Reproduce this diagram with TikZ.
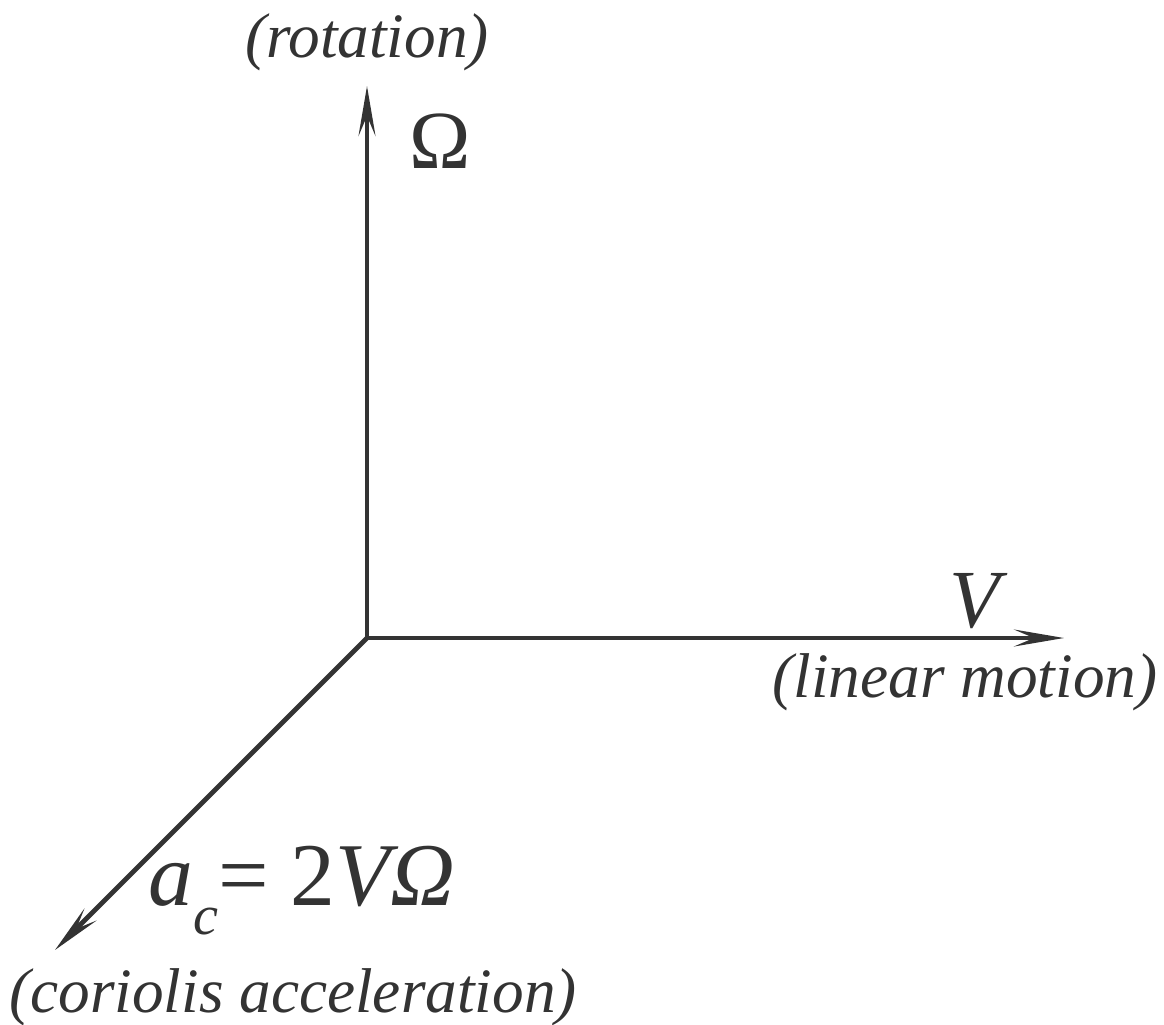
\documentclass[tikz,border=0pt]{standalone}
\usepackage{fontspec}
\setmainfont{Liberation Serif}
\usetikzlibrary{arrows.meta}
\definecolor{ink}{HTML}{333333}
\tikzset{
  axis/.style={draw=ink, line width=2.8pt, -{Stealth[length=1.0cm,width=0.34cm,inset=0.4cm]}},
  lbl/.style={text=ink, inner sep=0pt, anchor=base, font=\fontsize{36}{40}\selectfont\itshape},
  sym/.style={text=ink, inner sep=0pt, anchor=base, font=\fontsize{47}{52}\selectfont},
}
\begin{document}
\begin{tikzpicture}[x=0.02cm, y=-0.02cm]
\useasboundingbox (0,0) rectangle (1164,1025);
\coordinate (O) at (367,638);
\coordinate (up) at (367,86);
\coordinate (right) at (1064,638);
\coordinate (diag) at (55,950);
\draw[axis] (O) -- (up);
\draw[axis] (O) -- (right);
\draw[axis] (O) -- (diag);
\node[lbl] (rot) at (367,57) {(rotation)};
\node[sym] (om) at (440,168) {Ω};
\node[sym, font=\fontsize{47}{52}\selectfont\itshape] (v) at (975,627) {V};
\node[lbl] (lin) at (965,697) {(linear motion)};
\node[sym, anchor=base west, font=\fontsize{51}{56}\selectfont] (eq) at (148,905) {\textit{a}\raisebox{-0.33em}{\fontsize{32}{34}\selectfont\textit{c}}= 2\textit{VΩ}};
\node[lbl] (cor) at (293,1012) {(coriolis acceleration)};
\end{tikzpicture}
\end{document}
